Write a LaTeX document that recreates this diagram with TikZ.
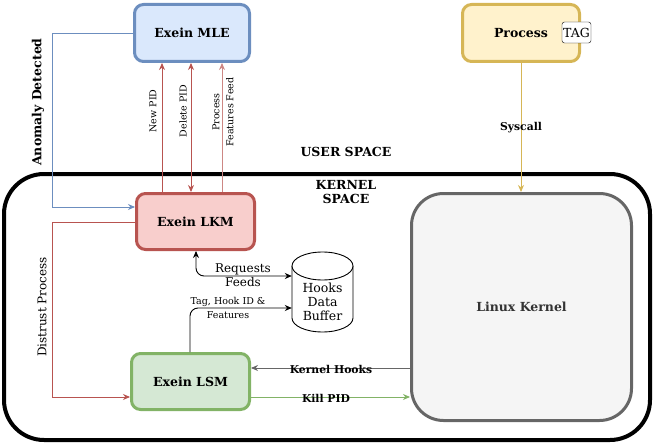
\documentclass[tikz,border=0pt]{standalone}
\usepackage{fontspec}
\setmainfont{DejaVu Serif}
\usetikzlibrary{arrows.meta,calc}
\definecolor{mlefill}{HTML}{DAE8FC}\definecolor{mlestroke}{HTML}{6C8EBF}
\definecolor{lkmfill}{HTML}{F8CECC}\definecolor{lkmstroke}{HTML}{B85450}
\definecolor{lsmfill}{HTML}{D5E8D4}\definecolor{lsmstroke}{HTML}{82B366}
\definecolor{procfill}{HTML}{FFF2CC}\definecolor{procstroke}{HTML}{D6B656}
\definecolor{lkfill}{HTML}{F5F5F5}\definecolor{lkstroke}{HTML}{666666}
\definecolor{lktext}{HTML}{333333}
\tikzset{
  box/.style={draw, line width=3pt, rounded corners=9pt, inner sep=0pt,
    font=\fontsize{12.5}{14}\selectfont\bfseries},
  conn/.style={line width=0.9pt, -{Stealth[length=7pt,width=6pt]}},
  biconn/.style={line width=0.9pt, {Stealth[length=7pt,width=6pt]}-{Stealth[length=7pt,width=6pt]}},
  small/.style={font=\fontsize{9.5}{14}\selectfont},
  lbl/.style={font=\fontsize{10.8}{12}\selectfont\bfseries},
}
\begin{document}
\begin{tikzpicture}[x=1pt,y=-1pt]
\useasboundingbox (0,0) rectangle (654,444);
% kernel space container
\node[draw, line width=4pt, rounded corners=40pt, minimum width=646pt, minimum height=266pt, inner sep=0pt] (kspace) at (327,307) {};
% boxes
\node[box, fill=mlefill, draw=mlestroke, minimum width=115pt, minimum height=57pt] (mle) at (192,33) {Exein MLE};
\node[box, fill=procfill, draw=procstroke, minimum width=117pt, minimum height=57pt] (proc) at (521,33) {Process};
\node[draw, rounded corners=2.5pt, fill=white, inner sep=0pt, minimum width=29pt, minimum height=21pt, font=\fontsize{12.5}{14}\selectfont] (tag) at (576.5,32.5) {TAG};
\node[box, fill=lkmfill, draw=lkmstroke, minimum width=118pt, minimum height=56pt] (lkm) at (195.5,221.5) {Exein LKM};
\node[box, fill=lsmfill, draw=lsmstroke, minimum width=118pt, minimum height=56pt] (lsm) at (190.5,381.5) {Exein LSM};
\node[box, fill=lkfill, draw=lkstroke, rounded corners=32pt, minimum width=220pt, minimum height=227pt, text=lktext] (lk) at (521.5,307) {Linux Kernel};
% cylinder
\node[minimum width=61pt, minimum height=80pt, inner sep=0pt] (hdb) at (322.5,292) {};
\draw[fill=white, line width=0.9pt] (292,266) -- (292,318) arc[start angle=180, end angle=0, x radius=30.5, y radius=14] -- (353,266);
\draw[fill=white, line width=0.9pt] (322.5,266) ellipse [x radius=30.5, y radius=14];
\node[align=center, font=\fontsize{12.5}{14}\selectfont] (hdbtxt) at (322.5,302) {Hooks\\Data\\Buffer};
% texts
\node[font=\fontsize{12.5}{14}\selectfont\bfseries] (us) at (346,152) {USER SPACE};
\node[font=\fontsize{12.5}{14}\selectfont\bfseries, align=center] (ks) at (346,192) {KERNEL\\SPACE};
% MLE <-> LKM
\draw[conn, draw=lkmstroke] (162,0 |- lkm.north) -- (162,0 |- mle.south);
\draw[biconn, draw=lkmstroke] (191,0 |- lkm.north) -- (191,0 |- mle.south);
\draw[conn, draw=lkmstroke!70] (222,0 |- lkm.north) -- (222,0 |- mle.south);
\node[small, rotate=90] (lnew) at (153,111) {New PID};
\node[small, rotate=90] (ldel) at (183,111) {Delete PID};
\node[small, rotate=90, align=center] (lfeat) at (223,112) {Process\\Features Feed};
% anomaly detected
\draw[conn, draw=mlestroke] (mle.west) -- (52,33) -- (52,207) -- (lkm.west |- 0,207);
\node[rotate=90, font=\fontsize{12.5}{14}\selectfont\bfseries] (lanom) at (38,102) {Anomaly Detected};
% distrust process
\draw[conn, draw=lkmstroke] (lkm.west |- 0,222) -- (52,222) -- (52,397) -- (lsm.west |- 0,397);
\node[rotate=90, font=\fontsize{12}{14}\selectfont] (ldis) at (42,307) {Distrust Process};
% requests feeds
\draw[biconn, rounded corners=8pt] (196,0 |- lkm.south) -- (196,276) -- (hdb.west |- 0,276);
\node[align=center, font=\fontsize{12}{14}\selectfont] (lreq) at (243,275) {Requests\\Feeds};
% tag hook id
\draw[conn, rounded corners=8pt] (190,0 |- lsm.north) -- (190,308) -- (hdb.west |- 0,308);
\node[small, align=center] (ltag) at (228,308) {Tag, Hook ID \&\\Features};
% kernel hooks / kill pid
\draw[conn, draw=lkstroke] (lk.west |- 0,368) -- (lsm.east |- 0,368);
\node[lbl] (lkh) at (331,369) {Kernel Hooks};
\draw[conn, draw=lsmstroke] (lsm.east |- 0,397) -- (lk.west |- 0,397);
\node[lbl] (lkill) at (326,398) {Kill PID};
% syscall
\draw[conn, draw=procstroke] (proc.south) -- (proc.south |- lk.north);
\node[lbl] (lsys) at (521,128) {Syscall};
\end{tikzpicture}
\end{document}
